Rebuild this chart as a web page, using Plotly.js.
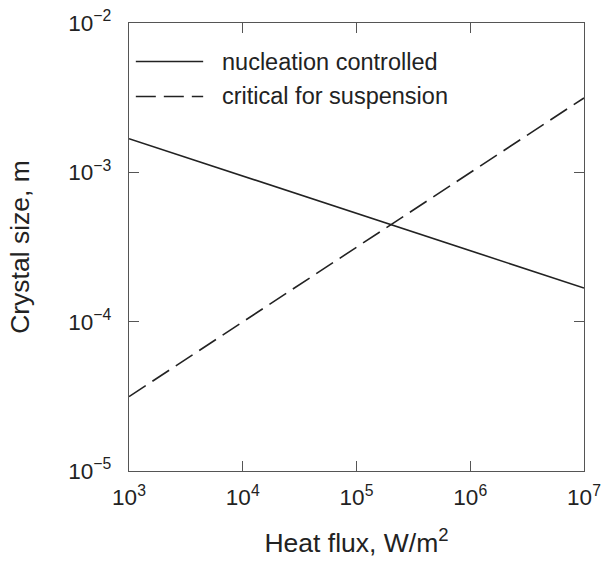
<!DOCTYPE html>
<html>
<head>
<meta charset="utf-8">
<script src="https://cdn.plot.ly/plotly-3.0.1.min.js"></script>
<style>html,body{margin:0;padding:0;background:#fff;}#chart{width:605px;height:566px;}</style>
</head>
<body>
<div id="chart"></div>
<script>
// Data (log-log straight lines)
const heatFlux = [1e3, 1e7];
const nucleationControlled = [1.68e-3, 1.68e-4];
const criticalSuspension = [3.15e-5, 3.15e-3];
const seriesNames = ["nucleation controlled", "critical for suspension"];
const xTickVals = [1e3, 1e4, 1e5, 1e6, 1e7];
const xTickText = ["10<sup>3</sup>", "10<sup>4</sup>", "10<sup>5</sup>", "10<sup>6</sup>", "10<sup>7</sup>"];
const yTickVals = [1e-5, 1e-4, 1e-3, 1e-2];
const yTickText = ["10<sup>\u22125</sup>", "10<sup>\u22124</sup>", "10<sup>\u22123</sup>", "10<sup>\u22122</sup>"];

const FONT = "Liberation Sans, Arial, Helvetica, sans-serif";
const lineColor = "#222222";
const axisColor = "#555555";

const traces = [
  {x: heatFlux, y: nucleationControlled, name: seriesNames[0], mode: "lines",
   line: {color: lineColor, width: 1.6, dash: "solid"}, showlegend: false},
  {x: heatFlux, y: criticalSuspension, name: seriesNames[1], mode: "lines",
   line: {color: lineColor, width: 1.6, dash: "20px,8px"}, showlegend: false}
];

const axisCommon = {
  type: "log", showgrid: false, zeroline: false,
  showline: true, linecolor: axisColor, linewidth: 1.3, mirror: "ticks",
  ticks: "inside", ticklen: 10, tickwidth: 1.2, tickcolor: axisColor,
  tickmode: "array",
  tickfont: {family: FONT, size: 22.5, color: "#222"}
};

const layout = {
  width: 605, height: 566,
  margin: {l: 129, r: 21, t: 23, b: 95},
  paper_bgcolor: "#fff", plot_bgcolor: "#fff",
  font: {family: FONT, color: "#222"},
  xaxis: Object.assign({}, axisCommon, {
    range: [3, 7], tickvals: xTickVals, ticktext: xTickText, ticklabelstandoff: 6,
    title: {text: "Heat flux, W/m<sup>2</sup>", font: {family: FONT, size: 26.5, color: "#222"}, standoff: 24}
  }),
  yaxis: Object.assign({}, axisCommon, {
    range: [-5, -2], tickvals: yTickVals, ticktext: yTickText, ticklabelstandoff: 12,
    title: {text: "Crystal size, m", font: {family: FONT, size: 26.5, color: "#222"}, standoff: 31}
  }),
  shapes: [
    {type: "line", xref: "paper", yref: "paper", x0: 0.015, x1: 0.163, y0: 0.914, y1: 0.914,
     line: {color: lineColor, width: 1.6}},
    {type: "line", xref: "paper", yref: "paper", x0: 0.015, x1: 0.163, y0: 0.836, y1: 0.836,
     line: {color: lineColor, width: 1.6, dash: "20px,8px"}}
  ],
  annotations: [
    {text: seriesNames[0], xref: "paper", yref: "paper", x: 0.2, y: 0.914, xanchor: "left", yanchor: "middle",
     showarrow: false, font: {family: FONT, size: 23.5, color: "#222"}},
    {text: seriesNames[1], xref: "paper", yref: "paper", x: 0.2, y: 0.836, xanchor: "left", yanchor: "middle",
     showarrow: false, font: {family: FONT, size: 23.5, color: "#222"}}
  ]
};

Plotly.newPlot("chart", traces, layout, {displayModeBar: false, staticPlot: true});
</script>
</body>
</html>
